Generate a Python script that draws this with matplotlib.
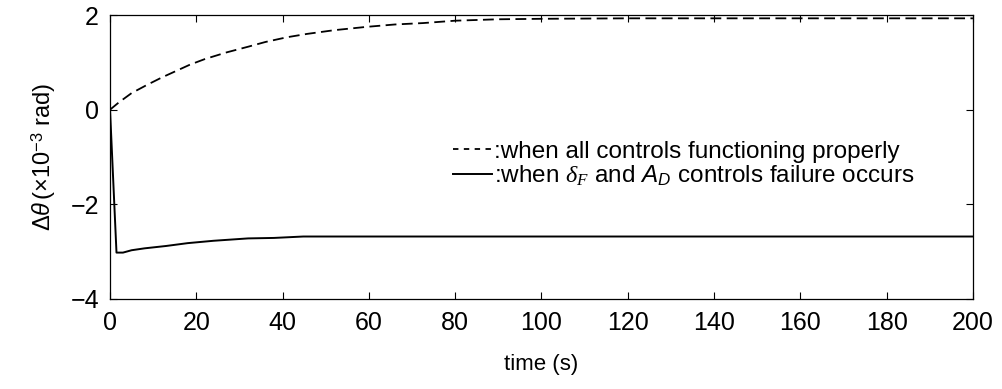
import matplotlib
matplotlib.use("Agg")
import matplotlib.pyplot as plt

plt.rcParams['font.family'] = ['Liberation Sans', 'DejaVu Sans']
plt.rcParams['mathtext.fontset'] = 'custom'
plt.rcParams['mathtext.rm'] = 'Liberation Sans'
plt.rcParams['mathtext.it'] = 'Liberation Serif:italic'
plt.rcParams['mathtext.sf'] = 'Liberation Sans:italic'

# dashed curve: all controls functioning properly
t_ok = [0, 2, 5, 8.5, 12, 18.5, 22, 27, 32, 36, 41, 45.6, 52, 59.5, 66, 72.6, 80, 90, 100, 120, 150, 200]
th_ok = [0, 0.15, 0.35, 0.52, 0.68, 0.95, 1.07, 1.21, 1.33, 1.43, 1.53, 1.6, 1.68, 1.75, 1.8, 1.83, 1.88, 1.91, 1.92, 1.93, 1.93, 1.93]

# solid curve: delta_F and A_D controls failure
t_fail = [0, 1.5, 3, 5, 8, 13, 18, 24, 32, 38, 44.8, 60, 100, 150, 200]
th_fail = [0, -3.02, -3.02, -2.97, -2.93, -2.88, -2.82, -2.77, -2.72, -2.71, -2.68, -2.68, -2.68, -2.68, -2.68]

xticks = [0, 20, 40, 60, 80, 100, 120, 140, 160, 180, 200]
yticks = [-4, -2, 0, 2]

fig = plt.figure(figsize=(10.02, 3.89), dpi=100)
ax = fig.add_axes([0.1098, 0.2314, 0.8612, 0.73])

ax.plot(t_ok, th_ok, color='black', lw=1.3, ls=(0, (6, 3)),
        label=':when all controls functioning properly')
ax.plot(t_fail, th_fail, color='black', lw=1.4,
        label=r':when $\delta_F$ and $\mathsf{A}_\mathsf{D}$ controls failure occurs')

ax.set_xlim(0, 200)
ax.set_ylim(-4, 2)
ax.set_xticks(xticks)
ax.set_yticks(yticks)
ax.set_yticklabels(['\u22124', '\u22122', '0', '2'])
ax.tick_params(direction='in', top=True, right=True, length=5, width=0.8, labelsize=18)
ax.tick_params(axis='x', pad=9)
ax.tick_params(axis='y', pad=8)
for s in ax.spines.values():
    s.set_linewidth(0.9)

ax.set_xlabel('time (s)', fontsize=16, labelpad=13)
ax.set_ylabel(r'$\Delta\mathsf{\theta}\,(\times10^{-3}$ rad)', fontsize=17, labelpad=9)

leg = ax.legend(loc='upper left', bbox_to_anchor=(0.383, 0.6), frameon=False, fontsize=17.5,
                handlelength=1.6, handletextpad=0.1, borderpad=0, labelspacing=0.05)
leg.get_lines()[0].set_dashes([3, 3])

fig.savefig('out.png', dpi=100)
